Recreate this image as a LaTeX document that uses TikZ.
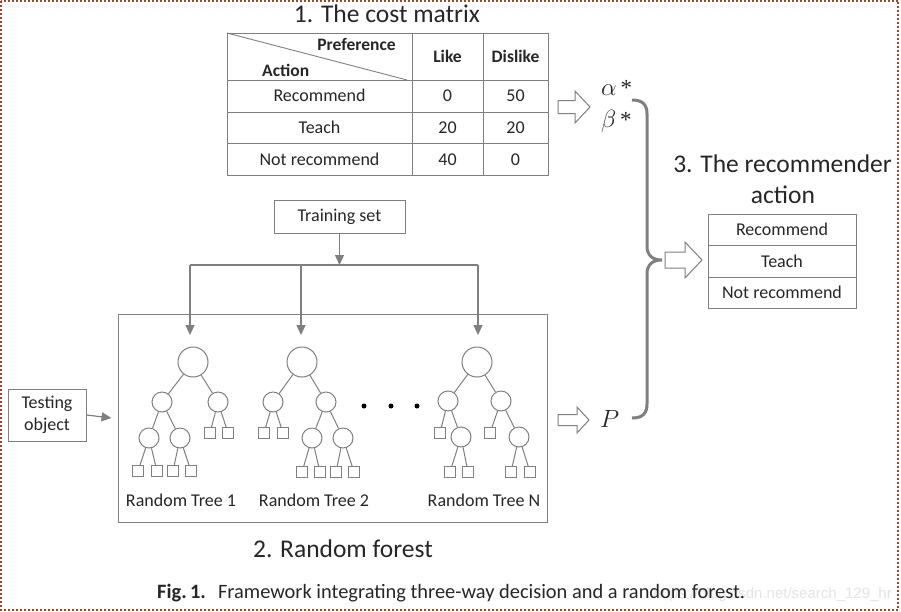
\documentclass[tikz,border=0pt]{standalone}
\usepackage{fontspec}
\setmainfont{Carlito}
\newfontfamily\seriffont{Liberation Serif}
\newfontfamily\wmfont{Liberation Sans}
\usetikzlibrary{arrows.meta}
\definecolor{ln}{HTML}{7F7F7F}
\definecolor{tx}{HTML}{262626}
\definecolor{bord}{HTML}{A5442C}
\newcommand{\blockarr}[6]{%
  \draw[blk] (#1,#2-#6) -- ++(#3,0) -- ++(0,-#5+#6) -- ++(#4,#5) -- ++(-#4,#5) -- ++(0,-#5+#6) -- ++(-#3,0) -- cycle;}
\begin{document}
\begin{tikzpicture}[x=1pt,y=-1pt,
  every node/.style={text=tx, inner sep=0pt},
  txt/.style={font=\fontsize{18}{22}\selectfont},
  hdr/.style={font=\fontsize{17.5}{20}\selectfont\bfseries},
  ttl/.style={font=\fontsize{25.5}{30}\selectfont},
  rbox/.style={draw=ln, line width=1pt},
  tline/.style={draw=ln, line width=0.9pt},
  conn/.style={draw=ln, line width=1.2pt},
  arr/.style={conn, -{Triangle[length=10pt,width=9pt]}},
  bignode/.style={circle, draw=ln, line width=1pt, minimum size=30pt},
  smnode/.style={circle, draw=ln, line width=1pt, minimum size=20pt},
  leaf/.style={rectangle, draw=ln, line width=1pt, minimum size=11pt},
  tedge/.style={draw=ln, line width=1pt},
  blk/.style={draw=ln, line width=1pt, fill=white},
  bracestyle/.style={draw=ln, line width=3pt},
  dotnode/.style={circle, fill=black, minimum size=5pt},
]
\useasboundingbox (0,0) rectangle (901,611);
\draw[bord, line width=2pt, dash pattern=on 2pt off 2pt] (1,1) rectangle (898.3,610);

% ---- 1. cost matrix
\node[ttl, anchor=base] (t1) at (387,22) {1. The cost matrix};
\draw[tline] (227,33) rectangle (548,175);
\draw[tline] (227,80) -- (548,80);
\draw[tline] (227,112) -- (548,112);
\draw[tline] (227,143) -- (548,143);
\draw[tline] (412,33) -- (412,175);
\draw[tline] (483,33) -- (483,175);
\draw[tline] (227,33) -- (407,80);
\node[hdr, anchor=base east] (pref) at (396,50) {Preference};
\node[hdr, anchor=base west] (actn) at (262,76) {Action};
\node[hdr, anchor=base] (like) at (447.5,62.5) {Like};
\node[hdr, anchor=base] (dislike) at (515.5,62.5) {Dislike};
\node[txt, anchor=base] (r1) at (319.5,101.7) {Recommend};
\node[txt, anchor=base] (r2) at (319.5,133) {Teach};
\node[txt, anchor=base] (r3) at (319.5,165) {Not recommend};
\node[txt, anchor=base] (v11) at (447.5,101.7) {0};
\node[txt, anchor=base] (v12) at (515.5,101.7) {50};
\node[txt, anchor=base] (v21) at (447.5,133) {20};
\node[txt, anchor=base] (v22) at (515.5,133) {20};
\node[txt, anchor=base] (v31) at (447.5,165) {40};
\node[txt, anchor=base] (v32) at (515.5,165) {0};

% ---- outputs
\blockarr{558}{107}{17}{15}{16}{6.5}
\node[anchor=base west] (alpha) at (601,95) {\fontsize{23}{25}\selectfont$\alpha$\,{\seriffont *}};
\node[anchor=base west] (beta) at (601,127) {\fontsize{23}{25}\selectfont$\beta$\,{\seriffont *}};
\blockarr{558}{420}{19}{12}{13}{5.5}
\node[anchor=base west] (pp) at (600,427) {\fontsize{24}{26}\selectfont$P$};
\draw[bracestyle] (632,100) .. controls (642,100) and (647,104) .. (647,114) -- (647,246)
  .. controls (647,255) and (652,260) .. (662,260)
  .. controls (652,260) and (647,265) .. (647,274) -- (647,404)
  .. controls (647,414) and (642,418) .. (632,418);
\blockarr{665}{260}{20}{17}{18}{8}

% ---- 3. recommender action
\node[ttl, anchor=base] (t3a) at (782.5,172) {3. The recommender};
\node[ttl, anchor=base] (t3b) at (783,203) {action};
\node[rbox, txt, minimum width=148pt, minimum height=31pt] (act1) at (782,229.5) {Recommend};
\node[rbox, txt, minimum width=148pt, minimum height=32pt] (act2) at (782,261) {Teach};
\node[rbox, txt, minimum width=148pt, minimum height=31pt] (act3) at (782,292.5) {Not recommend};

% ---- 2. random forest
\node[rbox, txt, minimum width=131pt, minimum height=33pt] (train) at (339.5,216.5) {Training set};
\coordinate (hub) at (339.5,265);
\coordinate (h1) at (190,265);
\coordinate (h2) at (301,265);
\coordinate (h3) at (478,265);
\coordinate (e1) at (190,335);
\coordinate (e2) at (301,335);
\coordinate (e3) at (478,335);
\draw[arr] (train.south) -- (hub);
\draw[conn] (h1) -- (h3);
\draw[arr] (h1) -- (e1);
\draw[arr] (h2) -- (e2);
\draw[arr] (h3) -- (e3);

\node[rbox, minimum width=429pt, minimum height=208pt] (forest) at (332.5,418) {};
\node[rbox, minimum width=78pt, minimum height=52pt, align=center, font=\fontsize{18}{22}\selectfont] (test) at (47,415) {Testing\\object};
\draw[arr] (test.east) -- ([xshift=-6pt]forest.west);

% tree 1
\node[bignode] (t1r) at (193,362) {};
\node[smnode] (t1a) at (162,402) {};
\node[smnode] (t1b) at (218,402) {};
\node[smnode] (t1c) at (149,438) {};
\node[smnode] (t1d) at (180,438) {};
\node[leaf] (t1e) at (210,433) {};
\node[leaf] (t1f) at (228,433) {};
\node[leaf] (t1g) at (138,471) {};
\node[leaf] (t1h) at (157,471) {};
\node[leaf] (t1i) at (173,471) {};
\node[leaf] (t1j) at (191,471) {};
\draw[tedge] (t1r) -- (t1a) (t1r) -- (t1b) (t1a) -- (t1c) (t1a) -- (t1d)
  (t1b) -- (t1e) (t1b) -- (t1f) (t1c) -- (t1g) (t1c) -- (t1h) (t1d) -- (t1i) (t1d) -- (t1j);
\node[txt] (lab1) at (181,500) {Random Tree 1};

% tree 2
\node[bignode] (t2r) at (302,362) {};
\node[smnode] (t2a) at (273,402) {};
\node[smnode] (t2b) at (326,402) {};
\node[leaf] (t2e) at (264,433) {};
\node[leaf] (t2f) at (283,433) {};
\node[smnode] (t2c) at (312,438) {};
\node[smnode] (t2d) at (343,438) {};
\node[leaf] (t2g) at (302,472) {};
\node[leaf] (t2h) at (320,472) {};
\node[leaf] (t2i) at (336,472) {};
\node[leaf] (t2j) at (354,472) {};
\draw[tedge] (t2r) -- (t2a) (t2r) -- (t2b) (t2a) -- (t2e) (t2a) -- (t2f)
  (t2b) -- (t2c) (t2b) -- (t2d) (t2c) -- (t2g) (t2c) -- (t2h) (t2d) -- (t2i) (t2d) -- (t2j);
\node[txt] (lab2) at (314,500) {Random Tree 2};

% dots
\node[dotnode] (d1) at (364,406) {};
\node[dotnode] (d2) at (391,406) {};
\node[dotnode] (d3) at (417,406) {};

% tree N
\node[bignode] (tnr) at (477,362) {};
\node[smnode] (tna) at (448,401) {};
\node[smnode] (tnb) at (501,401) {};
\node[leaf] (tne) at (440,433) {};
\node[smnode] (tnc) at (461,437) {};
\node[leaf] (tnf) at (490,433) {};
\node[smnode] (tnd) at (519,437) {};
\node[leaf] (tng) at (450,472) {};
\node[leaf] (tnh) at (468,472) {};
\node[leaf] (tni) at (511,472) {};
\node[leaf] (tnj) at (530,472) {};
\draw[tedge] (tnr) -- (tna) (tnr) -- (tnb) (tna) -- (tne) (tna) -- (tnc)
  (tnb) -- (tnf) (tnb) -- (tnd) (tnc) -- (tng) (tnc) -- (tnh) (tnd) -- (tni) (tnd) -- (tnj);
\node[txt] (labn) at (484,500) {Random Tree N};

\node[ttl, anchor=base] (t2) at (343,557) {2. Random forest};

% caption
\node[anchor=base east, text=gray!22] (wm) at (892,598) {\wmfont\fontsize{15}{18}\selectfont https://blog.csdn.net/search\_129\_hr};
\node[anchor=base west] (cap) at (157,598) {\fontsize{20.4}{24}\selectfont{\bfseries Fig.\,1.}\hspace{0.6em}Framework integrating three-way decision and a random forest.};
\end{tikzpicture}
\end{document}
